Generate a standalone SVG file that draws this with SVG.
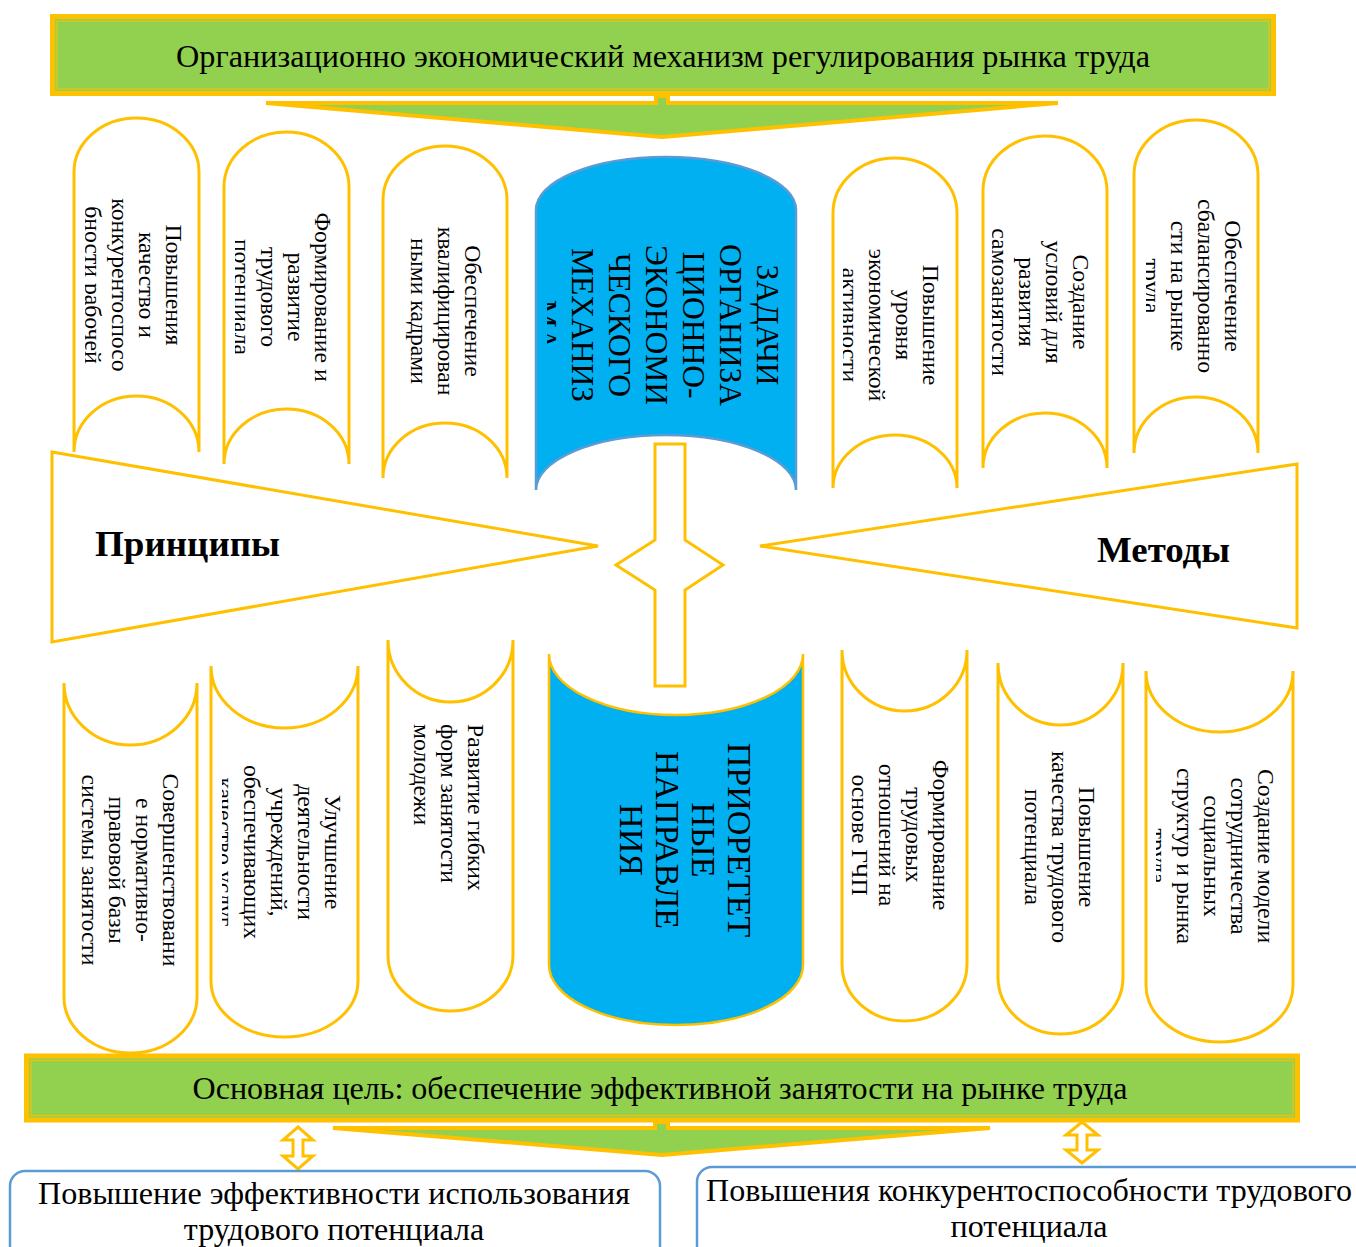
<svg xmlns="http://www.w3.org/2000/svg" width="1356" height="1247" viewBox="0 0 1356 1247">
<style>
.bg{fill:#ffffff}
.ban{fill:#92D050;stroke:#FFC000;stroke-width:5}
.banin{fill:none;stroke:#FFC000;stroke-width:1.2;opacity:.85}
.arr{fill:#92D050;stroke:#FFC000;stroke-width:4;stroke-linejoin:miter}
.hol{fill:#ffffff;stroke:#FFC000;stroke-width:3}
.sh{fill:#ffffff;stroke:#FFC000;stroke-width:3}
.blueU{fill:#00B0F0;stroke:#5B9BD5;stroke-width:2.5}
.blueL{fill:#00B0F0;stroke:#FFC000;stroke-width:2.5}
.box{fill:#ffffff;stroke:#5B9BD5;stroke-width:2.5}
.t{font-family:"Liberation Serif","Times New Roman",serif;fill:#000}
.h{font-size:32px;text-anchor:middle}
.v{font-size:23.7px;text-anchor:middle}
.vs{font-size:23.7px;text-anchor:start}
.vc{font-size:31.5px;text-anchor:middle}
.vc2{font-size:34px;text-anchor:middle}
.b{font-size:36px;font-weight:bold}
</style>
<defs>
<clipPath id="c1"><rect x="85" y="100" width="120" height="360"/></clipPath>
<clipPath id="c2"><rect x="235" y="100" width="120" height="370"/></clipPath>
<clipPath id="cU"><rect x="547" y="140" width="250" height="350"/></clipPath>
<clipPath id="c5"><rect x="843" y="140" width="120" height="350"/></clipPath>
<clipPath id="c6"><rect x="992" y="120" width="120" height="350"/></clipPath>
<clipPath id="c7"><rect x="1146" y="100" width="120" height="360"/></clipPath>
<clipPath id="cL2"><rect x="222" y="660" width="140" height="380"/></clipPath>
<clipPath id="cL7"><rect x="1156" y="660" width="140" height="390"/></clipPath>
</defs>
<rect class="bg" x="0" y="0" width="1356" height="1247"/>

<g id="connectors">
  <polygon class="arr" points="656,96 668,96 668,103 1058,103 662,137 266,103 656,103"/>
  <polygon class="arr" points="655,1122 668,1122 668,1128 990,1128 662,1155 333,1128 655,1128"/>
  <polygon class="hol" points="655,444 685,444 685,540 723,565 685,590 685,686 655,686 655,590 616,565 655,540"/>
  <polygon class="hol" stroke-width="2.5" points="298,1127 313,1140 303,1140 303,1156 313,1156 298,1169 283,1156 293,1156 293,1140 283,1140"/>
  <polygon class="hol" stroke-width="2.5" points="1082,1122 1098,1135 1087,1135 1087,1150 1098,1150 1082,1163 1066,1150 1077,1150 1077,1135 1066,1135"/>
</g>

<g id="top-banner">
  <rect class="ban" x="52.5" y="16.5" width="1221" height="77"/>
  <rect class="banin" x="57" y="21" width="1212" height="68"/>
  <text class="t h" x="663" y="67" textLength="974" lengthAdjust="spacingAndGlyphs">Организационно экономический механизм регулирования рынка труда</text>
</g>

<g id="task-1">
  <path class="sh" d="M74,452 L74,172 A62.5,54 0 0 1 199,172 L199,452 A62.5,56 0 0 0 74,452 Z"/>
  <g clip-path="url(#c1)"><text class="t v" transform="translate(166,285) rotate(90)"><tspan x="0" y="0">Повышения</tspan><tspan x="0" y="27">качество и</tspan><tspan x="0" y="54">конкурентоспосо</tspan><tspan x="0" y="81">бности рабочей</tspan></text></g>
</g>
<g id="task-2">
  <path class="sh" d="M224,464 L224,187 A62.5,55 0 0 1 349,187 L349,464 A62.5,55 0 0 0 224,464 Z"/>
  <g clip-path="url(#c2)"><text class="t v" transform="translate(315,297) rotate(90)"><tspan x="0" y="0">Формирование и</tspan><tspan x="0" y="27">развитие</tspan><tspan x="0" y="54">трудового</tspan><tspan x="0" y="81">потенциала</tspan></text></g>
</g>
<g id="task-3">
  <path class="sh" d="M383,478 L383,200 A62,54 0 0 1 507,200 L507,478 A62,55 0 0 0 383,478 Z"/>
  <text class="t v" transform="translate(465,311) rotate(90)"><tspan x="0" y="0">Обеспечение</tspan><tspan x="0" y="27">квалифицирован</tspan><tspan x="0" y="54">ными кадрами</tspan></text>
</g>
<g id="tasks-center">
  <path class="blueU" d="M536,490 L536,210 A130,53 0 0 1 796,210 L796,490 A130,55 0 0 0 536,490 Z"/>
  <g clip-path="url(#cU)"><text class="t vc" transform="translate(757,325) rotate(90)"><tspan x="0" y="0">ЗАДАЧИ</tspan><tspan x="0" y="37">ОРГАНИЗА</tspan><tspan x="0" y="74">ЦИОННО-</tspan><tspan x="0" y="111">ЭКОНОМИ</tspan><tspan x="0" y="148">ЧЕСКОГО</tspan><tspan x="0" y="185">МЕХАНИЗ</tspan><tspan x="0" y="222">МА</tspan></text></g>
</g>
<g id="task-5">
  <path class="sh" d="M833,488 L833,213 A62,55 0 0 1 957,213 L957,488 A62,53 0 0 0 833,488 Z"/>
  <g clip-path="url(#c5)"><text class="t v" transform="translate(923,325) rotate(90)"><tspan x="0" y="0">Повышение</tspan><tspan x="0" y="27">уровня</tspan><tspan x="0" y="54">экономической</tspan><tspan x="0" y="81">активности</tspan></text></g>
</g>
<g id="task-6">
  <path class="sh" d="M983,468 L983,191 A62,55 0 0 1 1107,191 L1107,468 A62,55 0 0 0 983,468 Z"/>
  <g clip-path="url(#c6)"><text class="t v" transform="translate(1073,302) rotate(90)"><tspan x="0" y="0">Создание</tspan><tspan x="0" y="27">условий для</tspan><tspan x="0" y="54">развития</tspan><tspan x="0" y="81">самозанятости</tspan></text></g>
</g>
<g id="task-7">
  <path class="sh" d="M1134,453 L1134,175 A62,55 0 0 1 1258,175 L1258,453 A62,56 0 0 0 1134,453 Z"/>
  <g clip-path="url(#c7)"><text class="t v" transform="translate(1225,286) rotate(90)"><tspan x="0" y="0">Обеспечение</tspan><tspan x="0" y="27">сбалансированно</tspan><tspan x="0" y="54">сти на рынке</tspan><tspan x="0" y="81">труда</tspan></text></g>
</g>

<g id="principles">
  <polygon class="sh" points="52,452 598,546 52,642"/>
  <text class="t b" x="95" y="556" textLength="185" lengthAdjust="spacingAndGlyphs">Принципы</text>
</g>
<g id="methods">
  <polygon class="sh" points="1297,464 760,546 1297,628"/>
  <text class="t b" x="1097" y="562" textLength="133" lengthAdjust="spacingAndGlyphs">Методы</text>
</g>

<g id="dir-1">
  <path class="sh" d="M64,683 A66.5,62 0 0 0 197,683 L197,997 A66.5,56 0 0 1 64,997 Z"/>
  <text class="t v" transform="translate(163,870) rotate(90)"><tspan x="0" y="0">Совершенствовани</tspan><tspan x="0" y="27">е нормативно-</tspan><tspan x="0" y="54">правовой базы</tspan><tspan x="0" y="81">системы занятости</tspan></text>
</g>
<g id="dir-2">
  <path class="sh" d="M211,666 A73.5,62 0 0 0 358,666 L358,981 A73.5,56 0 0 1 211,981 Z"/>
  <g clip-path="url(#cL2)"><text class="t v" transform="translate(325,852) rotate(90)"><tspan x="0" y="0">Улучшение</tspan><tspan x="0" y="27">деятельности</tspan><tspan x="0" y="54">учреждений,</tspan><tspan x="0" y="81">обеспечивающих</tspan><tspan x="0" y="108">качество услуг</tspan></text></g>
</g>
<g id="dir-3">
  <path class="sh" d="M388,640 A62.5,62 0 0 0 513,640 L513,955 A62.5,56 0 0 1 388,955 Z"/>
  <text class="t vs" transform="translate(468,724) rotate(90)"><tspan x="0" y="0">Развитие гибких</tspan><tspan x="0" y="27">форм занятости</tspan><tspan x="0" y="54">молодежи</tspan></text>
</g>
<g id="priority-center">
  <path class="blueL" d="M549,654 A127,61 0 0 0 803,654 L803,965 A127,60 0 0 1 549,965 Z"/>
  <text class="t vc2" transform="translate(728,840) rotate(90)"><tspan x="0" y="0">ПРИОРЕТЕТ</tspan><tspan x="0" y="36">НЫЕ</tspan><tspan x="0" y="72">НАПРАВЛЕ</tspan><tspan x="0" y="108">НИЯ</tspan></text>
</g>
<g id="dir-5">
  <path class="sh" d="M842,650 A62.5,61 0 0 0 967,650 L967,964 A62.5,57 0 0 1 842,964 Z"/>
  <text class="t v" transform="translate(933,835) rotate(90)"><tspan x="0" y="0">Формирование</tspan><tspan x="0" y="27">трудовых</tspan><tspan x="0" y="54">отношений на</tspan><tspan x="0" y="81">основе ГЧП</tspan></text>
</g>
<g id="dir-6">
  <path class="sh" d="M998,663 A62.5,62 0 0 0 1123,663 L1123,977 A62.5,57 0 0 1 998,977 Z"/>
  <text class="t v" transform="translate(1079,847) rotate(90)"><tspan x="0" y="0">Повышение</tspan><tspan x="0" y="27">качества трудового</tspan><tspan x="0" y="54">потенциала</tspan></text>
</g>
<g id="dir-7">
  <path class="sh" d="M1146,671 A73.5,61 0 0 0 1293,671 L1293,985 A73.5,57 0 0 1 1146,985 Z"/>
  <g clip-path="url(#cL7)"><text class="t v" transform="translate(1258,856) rotate(90)"><tspan x="0" y="0">Создание модели</tspan><tspan x="0" y="27">сотрудничества</tspan><tspan x="0" y="54">социальных</tspan><tspan x="0" y="81">структур и рынка</tspan><tspan x="0" y="108">труда</tspan></text></g>
</g>

<g id="goal-banner">
  <rect class="ban" x="26.5" y="1056" width="1271" height="64"/>
  <rect class="banin" x="31" y="1060.5" width="1262" height="55"/>
  <text class="t h" x="660" y="1099" textLength="935" lengthAdjust="spacingAndGlyphs">Основная цель: обеспечение эффективной занятости на рынке труда</text>
</g>

<g id="result-left">
  <rect class="box" x="10" y="1171" width="650" height="110" rx="15"/>
  <text class="t h" x="334" y="1204" textLength="592" lengthAdjust="spacingAndGlyphs">Повышение эффективности использования</text>
  <text class="t h" x="334" y="1240">трудового потенциала</text>
</g>
<g id="result-right">
  <rect class="box" x="697" y="1167" width="680" height="110" rx="15"/>
  <text class="t h" x="1029" y="1201" textLength="646" lengthAdjust="spacingAndGlyphs">Повышения конкурентоспособности трудового</text>
  <text class="t h" x="1029" y="1237">потенциала</text>
</g>
</svg>
